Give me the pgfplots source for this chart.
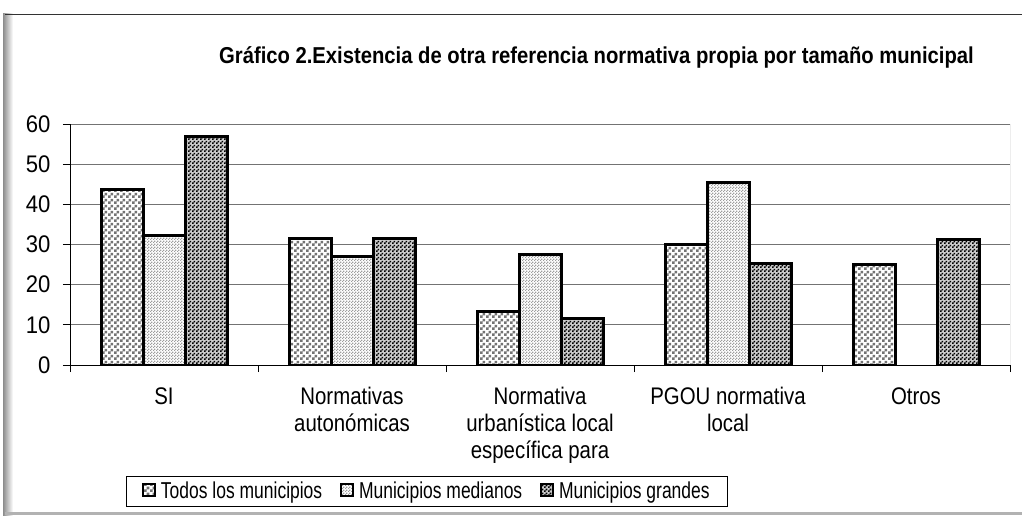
\documentclass[border=0pt]{standalone}
\usepackage{pgfplots}
\pgfplotsset{compat=1.18}
\usepackage{fontspec}
\setmainfont{Liberation Sans}
\newfontfamily\narrowfont[FakeStretch=0.85]{Liberation Sans}
\newfontfamily\legfont[FakeStretch=0.76]{Liberation Sans}
\newfontfamily\tickfont[FakeStretch=0.92]{Liberation Sans}
\newfontfamily\titlefont[FakeStretch=0.88]{Liberation Sans}
\usetikzlibrary{patterns}

\pgfdeclarepatternformonly{todospat}{\pgfqpoint{0pt}{0pt}}{\pgfqpoint{6pt}{6pt}}{\pgfqpoint{6pt}{6pt}}{%
  \pgfpathrectangle{\pgfqpoint{0pt}{0pt}}{\pgfqpoint{3pt}{3pt}}%
  \pgfpathrectangle{\pgfqpoint{3pt}{3pt}}{\pgfqpoint{3pt}{3pt}}%
  \pgfusepath{fill}}
\pgfdeclarepatternformonly{finechk}{\pgfqpoint{0pt}{0pt}}{\pgfqpoint{3pt}{3pt}}{\pgfqpoint{3pt}{3pt}}{%
  \pgfpathrectangle{\pgfqpoint{0pt}{0pt}}{\pgfqpoint{1.5pt}{1.5pt}}%
  \pgfpathrectangle{\pgfqpoint{1.5pt}{1.5pt}}{\pgfqpoint{1.5pt}{1.5pt}}%
  \pgfusepath{fill}}
\pgfdeclarepatternformonly{darkchk}{\pgfqpoint{0pt}{0pt}}{\pgfqpoint{4pt}{4pt}}{\pgfqpoint{4pt}{4pt}}{%
  \pgfpathrectangle{\pgfqpoint{0pt}{0pt}}{\pgfqpoint{2pt}{2pt}}%
  \pgfpathrectangle{\pgfqpoint{2pt}{2pt}}{\pgfqpoint{2pt}{2pt}}%
  \pgfusepath{fill}}

\begin{document}
\begin{tikzpicture}
\useasboundingbox (0,0) rectangle (1022pt,515pt);
\fill[white] (0,0) rectangle (1022pt,515pt);
% frame
\shade[left color=black!45, right color=white] (3pt,0pt) rectangle (13pt,501pt);
\draw[black!80, line width=0.8pt] (5pt,501pt) -- (1022pt,501pt);
\fill[black!30] (5pt,0pt) rectangle (1022pt,3pt);

\node[font=\titlefont\bfseries\fontsize{23}{27}\selectfont] at (596.5pt,458pt)
  {Gráfico 2.Existencia de otra referencia normativa propia por tamaño municipal};

\begin{axis}[
  at={(70pt,150pt)}, anchor=south west,
  scale only axis, width=940pt, height=241pt,
  ymin=0, ymax=60, ytick={0,10,...,60},
  xmin=-0.5, xmax=4.5,
  axis lines*=left,
  axis line style={black, line width=0.9pt},
  tick align=outside,
  major tick length=7pt,
  minor tick length=7pt,
  tick style={black, line width=0.9pt},
  xtick={0,1,2,3,4},
  xticklabels={SI, {Normativas\\autonómicas}, {Normativa\\urbanística local\\específica para}, {PGOU normativa\\local}, Otros},
  x tick style={draw=none},
  minor xtick={-0.5,0.5,1.5,2.5,3.5,4.5},
  minor x tick style={draw=black, line width=0.9pt},
  xticklabel style={align=center, font=\narrowfont\fontsize{24}{26.7}\selectfont, text depth=0pt, yshift=-12pt},
  yticklabel style={font=\tickfont\fontsize{24}{26}\selectfont, xshift=-9pt},
  /pgf/number format/assume math mode=true,
  ymajorgrids,
  major grid style={black!55, line width=0.9pt},
  ybar=0pt, bar width=42pt,
  every axis plot/.append style={draw=black, line width=3pt},
  legend columns=3,
  legend style={at={(0.3797,-0.523)}, anchor=center, draw=black, line width=0.6pt,
    font=\legfont\fontsize{23}{26}\selectfont, inner xsep=16pt, inner ysep=4pt,
    /tikz/every even column/.append style={column sep=16pt},
    /tikz/every odd column/.append style={column sep=3pt}},
  legend image code/.code={\draw[#1, line width=1.8pt] (0pt,-5pt) rectangle (12pt,7pt);},
]
\addplot[fill=white, postaction={pattern=todospat, pattern color=black!55}]
  coordinates {(0,43.8) (1,31.5) (2,13.4) (3,30.0) (4,25.1)};
\addplot[fill=white, postaction={pattern=finechk, pattern color=black!38}]
  coordinates {(0,32.3) (1,27.0) (2,27.4) (3,45.4)};
\addplot[fill=black!20, postaction={pattern=darkchk, pattern color=black}]
  coordinates {(0,56.8) (1,31.4) (2,11.6) (3,25.3) (4,31.3)};
\legend{Todos los municipios, Municipios medianos, Municipios grandes}
\draw[black!55, line width=0.9pt] (rel axis cs:1,0) -- (rel axis cs:1,1);
\end{axis}
\end{tikzpicture}
\end{document}
